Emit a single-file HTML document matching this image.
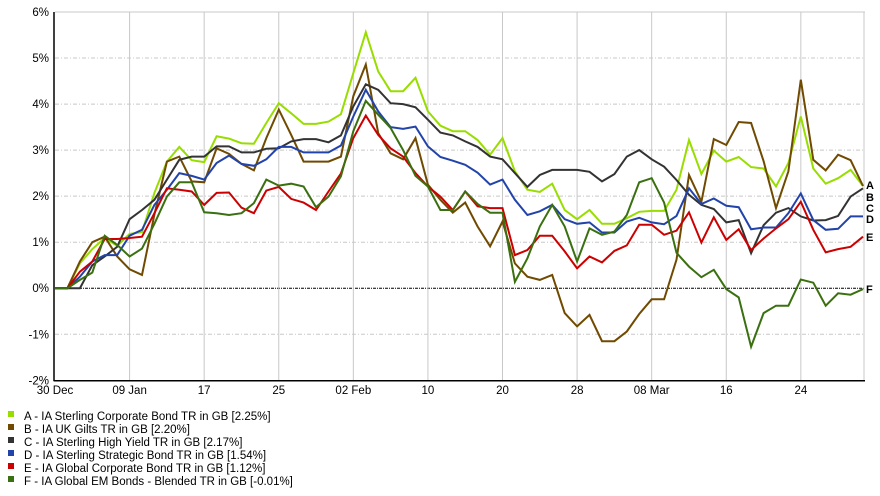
<!DOCTYPE html>
<html><head><meta charset="utf-8"><style>
body{margin:0;background:#fff;width:880px;height:491px;overflow:hidden;font-family:"Liberation Sans",sans-serif;}
svg text{font-family:"Liberation Sans",sans-serif;}
</style></head><body>
<svg id="chart" width="880" height="491" xmlns="http://www.w3.org/2000/svg">
<g id="grid"></g>
<g id="axes"></g>
<g id="series"></g>
<g id="legend"></g>
</svg>
<script>
const xTickLabels = ["30 Dec","09 Jan","17","25","02 Feb","10","20","28","08 Mar","16","24"];
const yTicks = [6,5,4,3,2,1,0,-1,-2];
const seriesLetters = ["A","B","C","D","E","F"];
const seriesNames = ["A - IA Sterling Corporate Bond TR in GB [2.25%]","B - IA UK Gilts TR in GB [2.20%]","C - IA Sterling High Yield TR in GB [2.17%]","D - IA Sterling Strategic Bond TR in GB [1.54%]","E - IA Global Corporate Bond TR in GB [1.12%]","F - IA Global EM Bonds - Blended TR in GB [-0.01%]"];
const seriesA = [0,0,0.54,0.85,1.09,0.92,1.18,1.22,2.07,2.75,3.07,2.78,2.74,3.3,3.25,3.15,3.14,3.59,4.02,3.8,3.57,3.57,3.62,3.78,4.67,5.56,4.71,4.28,4.28,4.57,3.84,3.53,3.41,3.41,3.22,2.9,3.26,2.54,2.14,2.09,2.27,1.7,1.5,1.7,1.4,1.4,1.52,1.66,1.68,1.68,2.14,3.22,2.48,2.99,2.75,2.85,2.63,2.6,2.21,2.72,3.73,2.6,2.27,2.39,2.57,2.22];
const seriesB = [0,0,0.58,1.0,1.12,0.69,0.41,0.29,1.6,2.75,2.86,2.32,2.3,3.04,2.92,2.7,2.56,3.26,3.88,3.33,2.75,2.75,2.75,2.86,4.17,4.86,3.37,2.93,2.8,3.26,2.25,1.92,1.64,1.86,1.34,0.91,1.45,0.54,0.25,0.18,0.29,-0.54,-0.83,-0.58,-1.15,-1.15,-0.94,-0.56,-0.24,-0.24,0.62,2.46,1.88,3.24,3.11,3.61,3.59,2.76,1.74,2.54,4.53,2.79,2.56,2.9,2.78,2.22];
const seriesC = [0,0,0,0.5,0.69,0.9,1.5,1.7,1.92,2.36,2.79,2.86,2.86,3.08,3.08,2.95,2.95,3.03,3.04,3.19,3.24,3.24,3.17,3.32,3.95,4.43,4.31,4.02,4.0,3.93,3.66,3.38,3.32,3.19,3.07,2.86,2.8,2.5,2.2,2.46,2.57,2.57,2.57,2.53,2.32,2.48,2.86,3.0,2.8,2.64,2.35,2.03,1.81,1.72,1.43,1.48,0.76,1.37,1.64,1.74,1.56,1.47,1.48,1.57,1.99,2.17];
const seriesD = [0,0,0.25,0.58,0.72,0.72,1.14,1.27,1.81,2.14,2.5,2.44,2.36,2.72,2.88,2.7,2.66,2.8,3.07,3.07,2.95,2.95,2.95,3.1,3.73,4.31,3.84,3.5,3.46,3.51,3.08,2.85,2.77,2.68,2.51,2.25,2.36,1.92,1.59,1.67,1.81,1.5,1.4,1.43,1.21,1.21,1.45,1.53,1.43,1.39,1.57,2.17,1.83,1.95,1.79,1.76,1.28,1.32,1.32,1.63,2.06,1.48,1.27,1.29,1.56,1.56];
const seriesE = [0,0,0.36,0.58,1.07,1.07,1.09,1.12,1.63,2.17,2.14,2.1,1.81,2.07,2.08,1.75,1.63,2.12,2.2,1.94,1.86,1.7,2.1,2.49,3.26,3.75,3.33,3.04,2.86,2.5,2.21,1.99,1.7,2.1,1.78,1.74,1.74,0.72,0.83,1.14,1.14,0.8,0.43,0.69,0.56,0.81,0.93,1.38,1.38,1.16,1.25,1.65,0.99,1.54,1.05,1.28,0.83,1.08,1.3,1.5,1.88,1.27,0.78,0.85,0.9,1.12];
const seriesF = [0,0,0.18,0.34,1.14,0.94,0.69,0.86,1.4,1.99,2.3,2.3,1.65,1.63,1.59,1.63,1.85,2.36,2.23,2.27,2.21,1.76,1.99,2.43,3.41,4.07,3.77,3.48,3.0,2.44,2.21,1.7,1.7,2.1,1.83,1.64,1.64,0.14,0.65,1.34,1.81,1.34,0.58,1.3,1.16,1.23,1.59,2.3,2.39,1.86,0.77,0.47,0.24,0.4,-0.02,-0.2,-1.27,-0.54,-0.38,-0.38,0.19,0.12,-0.38,-0.11,-0.14,-0.02];

const NS="http://www.w3.org/2000/svg";
const colors=["#99dd00","#704a00","#333333","#2244aa","#cc0000","#3a7010"];
const allSeries=[seriesA,seriesB,seriesC,seriesD,seriesE,seriesF];
const L=55,R=863,T=12,B=380.3;
const nPts=seriesA.length;
const yMin=-2,yMax=6;
function xs(i){return L+(R-L)*i/(nPts-1);}
function ys(v){return T+(yMax-v)/(yMax-yMin)*(B-T);}
function mk(tag,attrs,parent){const e=document.createElementNS(NS,tag);for(const k in attrs)e.setAttribute(k,attrs[k]);parent.appendChild(e);return e;}
const gridG=document.getElementById('grid'),axesG=document.getElementById('axes'),serG=document.getElementById('series'),legG=document.getElementById('legend');
yTicks.forEach(v=>{
  const y=ys(v);
  if(v!==yMax&&v!==yMin){
    const ln=mk('line',{x1:L,x2:R+2,y1:y,y2:y,stroke:v===0?'#000':'#c8c8c8','stroke-width':1,'stroke-dasharray':v===0?'3,1,1,1':'4,2,1,2'},gridG);
    
    
  }
  const t=mk('text',{x:49,y:y+4,'text-anchor':'end','font-size':'11.5',fill:'#000'},axesG);
  t.textContent=v+'%';
  
  
});
const topBorder=mk('line',{x1:L,x2:R+2,y1:T,y2:T,stroke:'#c8c8c8'},gridG);


const rightBorder=mk('line',{x1:R+1,x2:R+1,y1:T,y2:B,stroke:'#c8c8c8'},gridG);


xTickLabels.forEach((lab,k)=>{
  const x=xs(k*6);
  if(k>0){
    const ln=mk('line',{x1:x,x2:x,y1:T,y2:B,stroke:'#c8c8c8'},gridG);
    
    
  }
  const t=mk('text',{x:x,y:394,'text-anchor':'middle','font-size':'11.5',fill:'#000'},axesG);
  t.textContent=lab;
  
  
});
const yAxisLine=mk('line',{x1:L-1,x2:L-1,y1:T,y2:B+1,stroke:'#000','stroke-width':1.5},axesG);


const xAxisLine=mk('line',{x1:L-1,x2:R+2,y1:B+0.5,y2:B+0.5,stroke:'#000','stroke-width':1.5},axesG);


const endY=[185,197,208,219,237,289];
allSeries.forEach((s,si)=>{
  const pts=s.map((v,i)=>xs(i).toFixed(1)+','+ys(v).toFixed(1)).join(' ');
  const pl=mk('polyline',{points:pts,fill:'none',stroke:colors[si],'stroke-width':2,'stroke-linejoin':'miter'},serG);
  
  
  const t=mk('text',{x:866,y:endY[si]+4,'font-size':'11','font-weight':'bold',fill:'#000'},serG);
  t.textContent=seriesLetters[si];
  
  
});
seriesNames.forEach((n,si)=>{
  const y=416+si*13;
  const g=mk('g',{},legG);
  
  
  const r=mk('rect',{x:8,y:y-5,width:6,height:6,fill:colors[si]},g);
  
  
  const t=mk('text',{x:24,y:y+4,'font-size':'11.5',fill:'#000'},g);
  t.textContent=n;
  
  
});
</script>
</body></html>
